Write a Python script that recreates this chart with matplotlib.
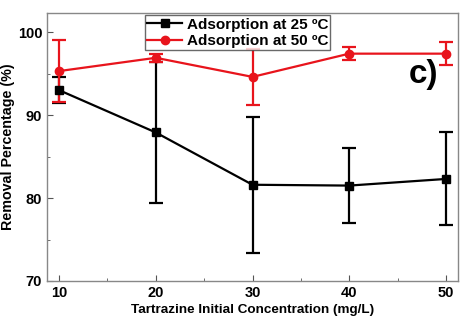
import numpy as np
import matplotlib.pyplot as plt
from matplotlib.ticker import MultipleLocator

plt.rcParams['font.family'] = ['Liberation Sans', 'DejaVu Sans']
plt.rcParams['font.weight'] = 'bold'

# Datos
conc = [10, 20, 30, 40, 50]
rem_25 = [93.0, 87.9, 81.6, 81.5, 82.3]
err_25 = [1.6, 8.5, 8.2, 4.5, 5.6]
rem_50 = [95.3, 96.9, 94.6, 97.4, 97.4]
err_50 = [3.7, 0.5, 3.4, 0.75, 1.4]

fig = plt.figure(figsize=(4.61, 3.22), dpi=100)
ax = fig.add_axes([47/461, 1-281/322, 411/461, 268/322])

e1 = ax.errorbar(conc, rem_25, yerr=err_25, color='black', marker='s', ms=6,
                 lw=1.6, capsize=5, capthick=1.6, elinewidth=1.6)
e2 = ax.errorbar(conc, rem_50, yerr=err_50, color='#e8141c', marker='o', ms=6,
                 lw=1.6, capsize=5, capthick=1.6, elinewidth=1.6)

ax.set_xlim(8.75, 51.25)
ax.set_ylim(70, 102.3)
ax.xaxis.set_major_locator(MultipleLocator(10))
ax.xaxis.set_minor_locator(MultipleLocator(5))
ax.yaxis.set_major_locator(MultipleLocator(10))
ax.yaxis.set_minor_locator(MultipleLocator(5))
ax.tick_params(which='both', direction='in', labelsize=10.5, color='#555555')
ax.tick_params(which='major', length=4)
ax.tick_params(which='minor', length=2.5)
for s in ax.spines.values():
    s.set_color('#888888')
    s.set_linewidth(1)

ax.set_xlabel('Tartrazine Initial Concentration (mg/L)', fontsize=9.7,
              fontweight='bold', labelpad=3)
ax.set_ylabel('Removal Percentage (%)', fontsize=10.3, fontweight='bold')
ax.yaxis.set_label_coords(-0.078, 0.5)

leg = ax.legend([e1[0], e2[0]], ['Adsorption at 25 ºC', 'Adsorption at 50 ºC'],
                loc='upper left', bbox_to_anchor=(0.232, 1.0), fontsize=11,
                frameon=True, fancybox=False, edgecolor='#444444',
                borderpad=0.15, labelspacing=0.15, handlelength=2.3,
                handletextpad=0.3, borderaxespad=0.15)
leg.get_frame().set_linewidth(1)
for t in leg.get_texts():
    t.set_fontweight('bold')

ax.text(0.915, 0.77, 'c)', transform=ax.transAxes, fontsize=24,
        fontweight='bold', ha='center', va='center')

fig.savefig('out.png', dpi=100)
